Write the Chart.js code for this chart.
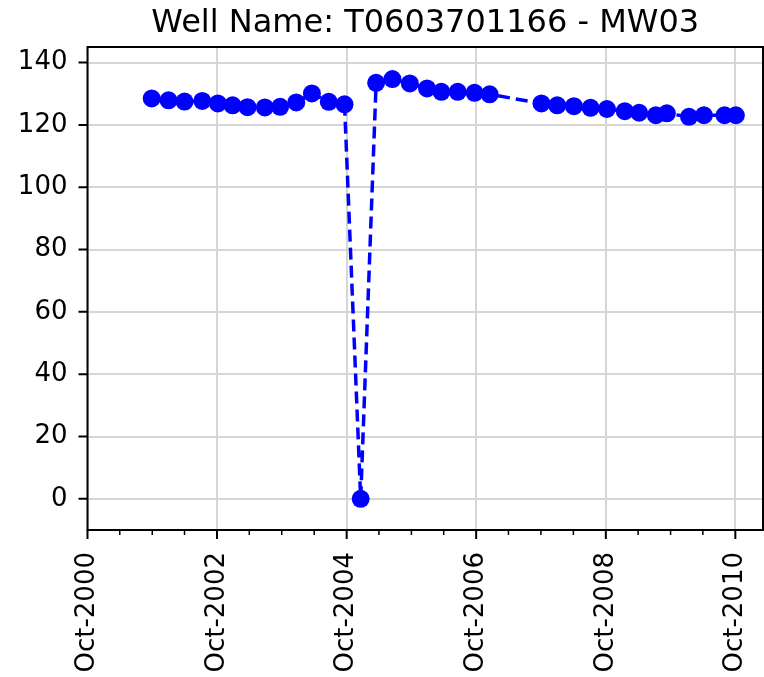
<!DOCTYPE html>
<html>
<head>
<meta charset="utf-8">
<script src="https://cdn.jsdelivr.net/npm/chart.js@4.4.0/dist/chart.umd.min.js"></script>
<style>
  html, body { margin: 0; padding: 0; background: #fff; }
  #wrap { width: 764px; height: 677px; }
</style>
</head>
<body>
<div id="wrap"><canvas id="myChart" width="764" height="677"></canvas></div>
<script>
const title = 'Well Name: T0603701166 - MW03';

// sample dates and measured values
const dates = [
  '2001-09-28', '2002-01-01', '2002-04-01', '2002-07-10', '2002-10-06', '2002-12-28',
  '2003-03-22', '2003-06-28', '2003-09-22', '2003-12-22', '2004-03-19', '2004-06-22',
  '2004-09-19', '2004-12-19', '2005-03-16', '2005-06-16', '2005-09-22', '2005-12-28',
  '2006-03-19', '2006-06-19', '2006-09-22', '2006-12-16', '2007-10-04', '2008-01-01',
  '2008-04-04', '2008-07-07', '2008-10-07', '2009-01-16', '2009-04-07', '2009-07-10',
  '2009-09-10', '2010-01-13', '2010-04-07', '2010-08-01', '2010-10-04'
];
const levels = [
  128.5, 127.9, 127.5, 127.7, 126.9, 126.3,
  125.7, 125.6, 125.8, 127.2, 130.1, 127.4,
  126.6, 0, 133.5, 134.7, 133.3, 131.7,
  130.6, 130.6, 130.3, 129.8, 126.9, 126.3,
  126.0, 125.5, 125.1, 124.4, 123.9, 123.1,
  123.7, 122.6, 123.1, 123.1, 123.1
];

const yTicks = [0, 20, 40, 60, 80, 100, 120, 140];
const xMajorTicks = ['2000-10-01', '2002-10-01', '2004-10-01', '2006-10-01', '2008-10-01', '2010-10-01'];
const xMinorTicks = [
  '2001-04-01', '2001-10-01', '2002-04-01', '2003-04-01', '2003-10-01', '2004-04-01',
  '2005-04-01', '2005-10-01', '2006-04-01', '2007-04-01', '2007-10-01', '2008-04-01',
  '2009-04-01', '2009-10-01', '2010-04-01'
];
const xMin = '2000-10-01';
const xMax = '2011-03-06';
const yMin = -10;
const yMax = 145;

const MONTHS = ['Jan','Feb','Mar','Apr','May','Jun','Jul','Aug','Sep','Oct','Nov','Dec'];
const ms = s => Date.parse(s);
const fmtDate = v => {
  const d = new Date(v);
  return MONTHS[d.getUTCMonth()] + '-' + d.getUTCFullYear();
};

const points = dates.map((d, i) => ({ x: ms(d), y: levels[i] }));
const FONT = 'DejaVu Sans';

// frame, outward ticks (major + minor) and title, matplotlib style
const axesPlugin = {
  id: 'axesPlugin',
  afterDraw(chart) {
    const { ctx, chartArea: a, scales } = chart;
    const xs = scales.x, ys = scales.y;
    ctx.save();
    ctx.strokeStyle = '#000';
    ctx.lineWidth = 2;
    ctx.strokeRect(a.left, a.top, a.right - a.left, a.bottom - a.top);
    ctx.beginPath();
    yTicks.forEach(v => {
      const p = ys.getPixelForValue(v);
      ctx.moveTo(a.left - 9, p); ctx.lineTo(a.left, p);
    });
    xMajorTicks.forEach(s => {
      const p = xs.getPixelForValue(ms(s));
      ctx.moveTo(p, a.bottom); ctx.lineTo(p, a.bottom + 9);
    });
    ctx.stroke();
    ctx.beginPath();
    ctx.lineWidth = 1.5;
    xMinorTicks.forEach(s => {
      const p = xs.getPixelForValue(ms(s));
      ctx.moveTo(p, a.bottom); ctx.lineTo(p, a.bottom + 5);
    });
    ctx.stroke();
    ctx.fillStyle = '#000';
    ctx.font = '32px "' + FONT + '"';
    ctx.textAlign = 'center';
    ctx.textBaseline = 'alphabetic';
    ctx.fillText(title, (a.left + a.right) / 2, 32);
    ctx.restore();
  }
};

const ctx = document.getElementById('myChart').getContext('2d');
const myChart = new Chart(ctx, {
  type: 'scatter',
  data: {
    datasets: [{
      label: 'level',
      data: points,
      showLine: true,
      borderColor: '#0000ff',
      backgroundColor: '#0000ff',
      borderWidth: 3.5,
      borderDash: [12, 6],
      pointRadius: 9,
      pointHoverRadius: 9,
      pointBorderWidth: 0
    }]
  },
  options: {
    responsive: false,
    animation: false,
    layout: { autoPadding: false, padding: { top: 47, right: 1, bottom: 0, left: 0 } },
    plugins: {
      legend: { display: false },
      title: { display: false },
      tooltip: { enabled: false }
    },
    scales: {
      x: {
        type: 'linear',
        min: ms(xMin),
        max: ms(xMax),
        afterBuildTicks: s => { s.ticks = xMajorTicks.map(d => ({ value: ms(d) })); },
        afterFit: s => { s.height = 147; s.paddingLeft = 0; s.paddingRight = 0; },
        border: { display: false },
        grid: { color: '#d6d6d6', lineWidth: 2, drawTicks: false },
        ticks: {
          autoSkip: false,
          maxRotation: 90,
          minRotation: 90,
          padding: 22,
          color: '#000',
          font: { family: FONT, size: 26 },
          callback: v => fmtDate(v)
        }
      },
      y: {
        min: yMin,
        max: yMax,
        afterBuildTicks: s => { s.ticks = yTicks.map(v => ({ value: v })); },
        afterFit: s => { s.width = 87.5; s.paddingTop = 0; s.paddingBottom = 0; },
        border: { display: false },
        grid: { color: '#d6d6d6', lineWidth: 2, drawTicks: false },
        ticks: {
          padding: 20,
          color: '#000',
          font: { family: FONT, size: 26 }
        }
      }
    }
  },
  plugins: [axesPlugin]
});
</script>
</body>
</html>
